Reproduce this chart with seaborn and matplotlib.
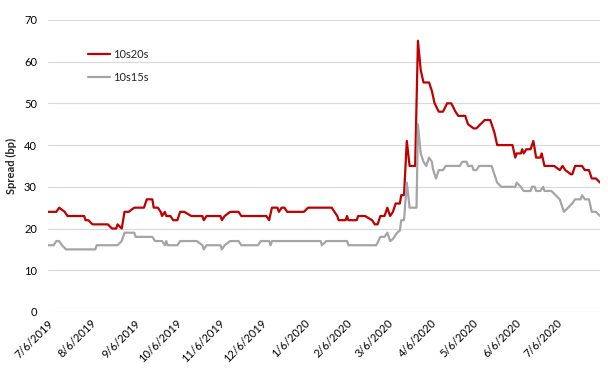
import matplotlib
matplotlib.use('Agg')
import matplotlib.pyplot as plt
import pandas as pd
import seaborn as sns

start = pd.Timestamp('2019-07-06')

# 10s20s spread (bp); days counted from 7/6/2019
red_days = [0, 6, 8, 10, 12, 14, 26, 27, 29, 32, 43, 46, 49, 50, 53, 55, 58, 62,
            69, 71, 75, 76, 79, 81, 82, 84, 85, 88, 90, 93, 95, 98, 103, 111, 112, 114,
            124, 125, 127, 131, 137, 139, 157, 159, 161, 165, 166, 168, 170, 172, 184, 187,
            204, 206, 208, 209, 214, 215, 216, 222, 223, 228, 233, 235, 237, 239, 242, 244,
            246, 248, 250, 253, 254, 256, 258, 260, 264, 266, 268, 270, 274, 276, 278, 281,
            284, 287, 290, 293, 295, 300, 302, 306, 308, 311, 314, 318, 319, 321, 323, 334,
            336, 337, 340, 341, 342, 344, 347, 349, 351, 354, 355, 357, 364, 368, 370, 372,
            376, 377, 379, 384, 386, 389, 391, 394, 397]
red_vals = [24, 24, 25, 24.5, 24, 23, 23, 22, 22, 21, 21, 20, 20, 21, 20, 24, 24, 25,
            25, 27, 27, 25, 25, 24, 23, 24, 23, 23, 22, 22, 24, 24, 23, 23, 22, 23,
            23, 22, 23, 24, 24, 23, 23, 22, 25, 25, 24, 25, 25, 24, 24, 25,
            25, 24, 23, 22, 22, 23, 22, 22, 23, 23, 22, 21, 21, 23, 23, 25,
            23, 24, 26, 26, 28, 28, 41, 35, 35, 65, 58, 55, 55, 53, 50, 48,
            48, 50, 50, 48, 47, 47, 45, 44, 44, 45, 46, 46, 45, 43, 40, 40,
            37, 38, 38, 39, 38, 39, 39, 41, 37, 37, 38, 35, 35, 34, 35, 34,
            33, 33, 35, 35, 34, 34, 32, 32, 31]

# 10s15s spread (bp)
gray_days = [0, 4, 6, 8, 10, 13, 34, 35, 50, 53, 55, 62, 63, 75, 77, 82, 84, 85,
             86, 93, 95, 107, 111, 112, 114, 124, 125, 127, 131, 137, 139, 151, 153, 159,
             160, 161, 196, 197, 200, 215, 216, 236, 239, 242, 244, 246, 248, 251, 253, 254,
             256, 258, 260, 265, 266, 268, 270, 272, 274, 276, 277, 279, 281, 284, 286, 296,
             298, 301, 302, 305, 306, 308, 310, 319, 321, 323, 326, 336, 337, 340, 342, 347,
             348, 350, 351, 354, 356, 357, 362, 365, 368, 371, 374, 377, 379, 383, 384, 386,
             389, 391, 394, 397]
gray_vals = [16, 16, 17, 17, 16, 15, 15, 16, 16, 17, 19, 19, 18, 18, 17, 17, 16, 17,
             16, 16, 17, 17, 16, 15, 16, 16, 15, 16, 17, 17, 16, 16, 17, 17,
             16, 17, 17, 16, 17, 17, 16, 16, 18, 18, 19, 17, 17.5, 19, 19.5, 22,
             22, 31, 25, 25, 45, 38, 36, 35, 37, 36, 34, 32, 34, 34, 35, 35,
             36, 36, 35, 35, 34, 34, 35, 35, 33, 31, 30, 30, 31, 30, 29, 29,
             30, 30, 29, 29, 30, 29, 29, 28, 27, 24, 25, 26, 27, 27, 28, 27,
             27, 24, 24, 23]

tick_dates = ['2019-07-06', '2019-08-06', '2019-09-06', '2019-10-06', '2019-11-06', '2019-12-06',
              '2020-01-06', '2020-02-06', '2020-03-06', '2020-04-06', '2020-05-06', '2020-06-06',
              '2020-07-06']
tick_labels = ['7/6/2019', '8/6/2019', '9/6/2019', '10/6/2019', '11/6/2019', '12/6/2019',
               '1/6/2020', '2/6/2020', '3/6/2020', '4/6/2020', '5/6/2020', '6/6/2020', '7/6/2020']

sns.set_style('white')
plt.rcParams['font.family'] = ['Lato', 'DejaVu Sans']

red = pd.DataFrame({'date': start + pd.to_timedelta(red_days, unit='D'), 'spread': red_vals})
gray = pd.DataFrame({'date': start + pd.to_timedelta(gray_days, unit='D'), 'spread': gray_vals})

fig = plt.figure(figsize=(6.08, 3.75), dpi=100)
ax = fig.add_axes([0.079, 0.168, 0.908, 0.779])

sns.lineplot(data=red, x='date', y='spread', color='#C00000', linewidth=1.6, label='10s20s', ax=ax)
sns.lineplot(data=gray, x='date', y='spread', color='#A5A5A5', linewidth=1.6, label='10s15s', ax=ax)

ax.set_ylim(0, 70)
ax.set_yticks(range(0, 71, 10))
ax.set_xlim(start, pd.Timestamp('2020-08-06'))
ax.set_xticks(pd.to_datetime(tick_dates))
ax.set_xticklabels(tick_labels, rotation=45, ha='right', rotation_mode='anchor', fontsize=8, color='#000000')
ax.tick_params(axis='y', labelsize=8, colors='#000000', length=0, pad=8)
ax.tick_params(axis='x', length=0, pad=4)
ax.grid(axis='y', color='#D9D9D9', linewidth=0.8)
ax.set_axisbelow(True)
for s in ax.spines.values():
    s.set_visible(False)
ax.set_xlabel('')
ax.set_ylabel('Spread (bp)', fontsize=8, fontweight='bold', labelpad=5)

ax.legend(loc='upper left', bbox_to_anchor=(0.054, 0.935), frameon=False, fontsize=8,
          labelspacing=1.05, handlelength=2.0, handletextpad=0.3)

fig.savefig('out.png', dpi=100)
